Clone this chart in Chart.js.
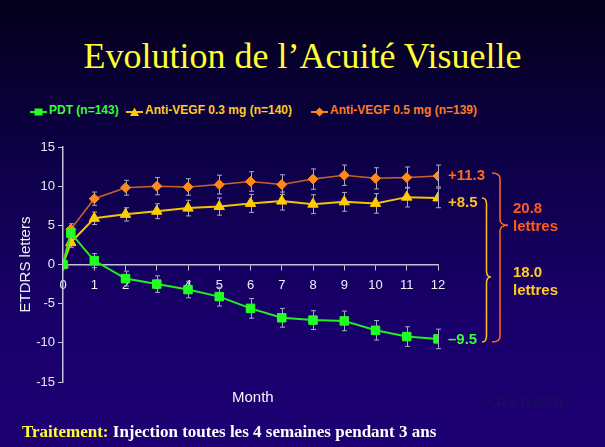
<!DOCTYPE html>
<html>
<head>
<meta charset="utf-8">
<script src="https://cdn.jsdelivr.net/npm/chart.js@4.4.1/dist/chart.umd.min.js"></script>
<style>
  html, body { margin: 0; padding: 0; }
  body {
    width: 605px; height: 447px; overflow: hidden; position: relative;
    background: linear-gradient(to bottom, #04001c 0%, #0d0046 35%, #19006a 70%, #1e0074 100%);
    font-family: "Liberation Sans", Arial, sans-serif;
  }
  #chart { position: absolute; left: 0; top: 0; }
  .title {
    position: absolute; left: 0; width: 605px; top: 35px; text-align: center;
    font-family: "Liberation Serif", "Times New Roman", serif; font-size: 36px; color: #ffff33;
  }
  .leg { position: absolute; top: 102px; font-weight: bold; font-size: 12px; line-height: 16px; white-space: nowrap; }
  .leg svg { vertical-align: -3px; margin-right: 2px; }
  .month { position: absolute; left: 232px; top: 388px; color: #f4f4fa; font-size: 15px; }
  .pval { position: absolute; left: 487px; top: 395px; color: #1a1452; font-size: 14px; }
  .foot {
    position: absolute; left: 22px; top: 422px; font-family: "Liberation Serif", "Times New Roman", serif;
    font-weight: bold; font-size: 17px; color: #ffffff;
  }
</style>
</head>
<body>
<div class="title">Evolution de l’Acuité Visuelle</div>

<div class="leg" style="left:30px;color:#33ff33">
  <svg width="17" height="10"><line x1="0" y1="5" x2="17" y2="5" stroke="#22ee22" stroke-width="2"/><rect x="4.5" y="1.5" width="8" height="7" fill="#22ff22"/></svg>PDT (n=143)
</div>
<div class="leg" style="left:126px;color:#ffcc22">
  <svg width="17" height="10"><line x1="0" y1="5" x2="17" y2="5" stroke="#f5c400" stroke-width="2"/><polygon points="8.5,0.5 13,9 4,9" fill="#ffcc00"/></svg>Anti-VEGF 0.3 mg (n=140)
</div>
<div class="leg" style="left:311px;color:#ff7a22">
  <svg width="17" height="10"><line x1="0" y1="5" x2="17" y2="5" stroke="#ff7a22" stroke-width="2"/><polygon points="8.5,0.5 13,5 8.5,9.5 4,5" fill="#ff8a1a"/></svg>Anti-VEGF 0.5 mg (n=139)
</div>

<canvas id="chart" width="605" height="447"></canvas>

<div class="month">Month</div>
<div class="pval">* <i>P</i> &lt; 0.0001</div>
<div class="foot"><span style="color:#ffff33">Traitement:</span> Injection toutes les 4 semaines pendant 3 ans</div>

<script>
//
// DATEN
//
const months = [0, 0.25, 1, 2, 3, 4, 5, 6, 7, 8, 9, 10, 11, 12];

const pdt    = [0, 4.0, 0.5, -1.8, -2.5, -3.2, -4.1, -5.6, -6.8, -7.1, -7.2, -8.4, -9.2, -9.5];
const vegf03 = [0, 2.8, 5.9, 6.4, 6.8, 7.2, 7.4, 7.8, 8.1, 7.7, 8.0, 7.8, 8.6, 8.5];
const vegf05 = [0, 4.5, 8.4, 9.8, 10.0, 9.9, 10.2, 10.6, 10.2, 10.9, 11.4, 11.0, 11.1, 11.3];

// Fehlerbalken (+/-)
const pdtErr    = [0, 0.5, 0.9, 0.95, 1.05, 1.05, 1.2, 1.25, 1.2, 1.2, 1.25, 1.25, 1.25, 1.25];
const vegf03Err = [0, 0.6, 0.8, 0.85, 0.95, 1.0, 1.1, 1.15, 1.15, 1.2, 1.2, 1.25, 1.25, 1.25];
const vegf05Err = [0, 0.7, 0.85, 0.95, 1.1, 1.05, 1.2, 1.25, 1.25, 1.3, 1.3, 1.35, 1.35, 1.4];

const yTicks = [-15, -10, -5, 0, 5, 10, 15];

function toPoints(values) {
  return values.map((v, i) => ({ x: months[i], y: v }));
}

//
// PLUGINS
//
const errorBars = {
  id: 'errorBars',
  beforeDatasetsDraw(chart) {
    const { ctx, scales: { x, y } } = chart;
    ctx.save();
    ctx.strokeStyle = '#a9a9c8';
    ctx.lineWidth = 1;
    chart.data.datasets.forEach(ds => {
      ds.data.forEach((p, i) => {
        const e = ds.errors[i];
        if (!e) return;
        const px = Math.round(x.getPixelForValue(p.x)) + 0.5;
        const top = y.getPixelForValue(p.y + e);
        const bot = y.getPixelForValue(p.y - e);
        ctx.beginPath();
        ctx.moveTo(px, top); ctx.lineTo(px, bot);
        ctx.moveTo(px - 2.5, top); ctx.lineTo(px + 2.5, top);
        ctx.moveTo(px - 2.5, bot); ctx.lineTo(px + 2.5, bot);
        ctx.stroke();
      });
    });
    ctx.restore();
  }
};

// geschweifte Klammer
function drawBrace(ctx, x0, yTop, yBot, yTip, w, color) {
  const xs = x0 + w * 0.5;
  const xt = x0 + w;
  const r = 6;
  ctx.save();
  ctx.strokeStyle = color;
  ctx.lineWidth = 1.5;
  ctx.beginPath();
  ctx.moveTo(x0, yTop);
  ctx.quadraticCurveTo(xs, yTop, xs, yTop + r);
  ctx.lineTo(xs, yTip - r);
  ctx.quadraticCurveTo(xs, yTip, xt, yTip);
  ctx.quadraticCurveTo(xs, yTip, xs, yTip + r);
  ctx.lineTo(xs, yBot - r);
  ctx.quadraticCurveTo(xs, yBot, x0, yBot);
  ctx.stroke();
  ctx.restore();
}

const annotations = {
  id: 'annotations',
  afterDraw(chart) {
    const { ctx, scales: { x, y } } = chart;
    const last = months.length - 1;
    const lx = x.getPixelForValue(12) + 10;

    ctx.save();
    ctx.font = 'bold 15px "Liberation Sans", Arial, sans-serif';
    ctx.textBaseline = 'middle';
    ctx.textAlign = 'left';
    ctx.fillStyle = '#ff6a1e';
    ctx.fillText('+' + vegf05[last].toFixed(1), lx, y.getPixelForValue(vegf05[last]));
    ctx.fillStyle = '#ffbe22';
    ctx.fillText('+' + vegf03[last].toFixed(1), lx, y.getPixelForValue(vegf03[last]) + 5);
    ctx.fillStyle = '#33ff33';
    ctx.fillText('–' + Math.abs(pdt[last]).toFixed(1), lx, y.getPixelForValue(pdt[last]) + 1);

    // Klammern
    drawBrace(ctx, 482, y.getPixelForValue(vegf03[last]), y.getPixelForValue(pdt[last]) + 3,
      y.getPixelForValue(-1.6), 9, '#ffbe22');
    drawBrace(ctx, 492, y.getPixelForValue(vegf05[last]) - 3, y.getPixelForValue(pdt[last]) + 3,
      y.getPixelForValue(5.0), 16, '#ff6a1e');

    ctx.fillStyle = '#ff5a1e';
    ctx.fillText((vegf05[last] - pdt[last]).toFixed(1), 513, 209);
    ctx.fillText('lettres', 513, 227);
    ctx.fillStyle = '#ffcc22';
    ctx.fillText((vegf03[last] - pdt[last]).toFixed(1), 513, 273);
    ctx.fillText('lettres', 513, 291);
    ctx.restore();
  }
};

//
// CHART
//
const axisColor = '#c2c2da';

new Chart(document.getElementById('chart'), {
  type: 'line',
  data: {
    datasets: [
      {
        label: 'PDT (n=143)',
        data: toPoints(pdt),
        errors: pdtErr,
        borderColor: '#22ee22',
        borderWidth: 2,
        pointStyle: 'rect',
        pointRadius: 6,
        pointBackgroundColor: '#22ff22',
        pointBorderColor: '#22ff22',
        pointBorderWidth: 1
      },
      {
        label: 'Anti-VEGF 0.3 mg (n=140)',
        data: toPoints(vegf03),
        errors: vegf03Err,
        borderColor: '#f5c400',
        borderWidth: 2,
        pointStyle: 'triangle',
        pointRadius: 6,
        pointBackgroundColor: '#ffcc00',
        pointBorderColor: '#ffcc00',
        pointBorderWidth: 1
      },
      {
        label: 'Anti-VEGF 0.5 mg (n=139)',
        data: toPoints(vegf05),
        errors: vegf05Err,
        borderColor: '#c8642a',
        borderWidth: 1.5,
        pointStyle: 'rectRot',
        pointRadius: 5,
        pointBackgroundColor: '#ff8a1a',
        pointBorderColor: '#ff8a1a',
        pointBorderWidth: 1
      }
    ]
  },
  options: {
    responsive: false,
    animation: false,
    layout: { padding: { left: 13, right: 167, top: 147, bottom: 65 } },
    plugins: {
      legend: { display: false },
      tooltip: { enabled: false }
    },
    elements: { line: { tension: 0 } },
    scales: {
      x: {
        type: 'linear',
        min: 0,
        max: 12,
        position: { y: 0 },
        afterFit(s) { s.height = 0; },
        ticks: {
          stepSize: 1,
          autoSkip: false,
          maxRotation: 0,
          color: '#f0f0f8',
          padding: 8,
          font: { family: '"Liberation Sans", Arial, sans-serif', size: 13 }
        },
        grid: { drawOnChartArea: false, tickLength: 5, color: axisColor },
        border: { color: axisColor, width: 1.5 }
      },
      y: {
        min: -15,
        max: 15,
        afterFit(s) { s.width = 50; },
        afterBuildTicks(s) { s.ticks = yTicks.map(v => ({ value: v })); },
        ticks: {
          color: '#e8e8f2',
          padding: 3,
          font: { family: '"Liberation Sans", Arial, sans-serif', size: 13 }
        },
        grid: { drawOnChartArea: false, tickLength: 5, color: axisColor },
        border: { color: axisColor, width: 1.5 },
        title: {
          display: true,
          text: 'ETDRS letters',
          color: '#f0f0f8',
          padding: { top: 4, bottom: 0 },
          font: { family: '"Liberation Sans", Arial, sans-serif', size: 15 }
        }
      }
    }
  },
  plugins: [errorBars, annotations]
});
</script>
</body>
</html>
